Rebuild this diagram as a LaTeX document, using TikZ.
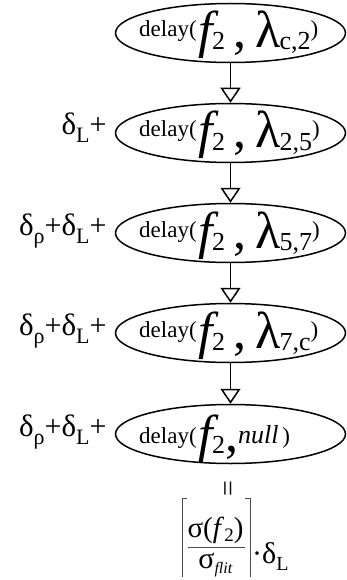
\documentclass[tikz,border=0pt]{standalone}
\usepackage{fontspec}
\setmainfont{Liberation Serif}
\usetikzlibrary{arrows.meta,shapes.geometric}
\newcommand{\fs}[2]{{\fontsize{#1}{#1}\selectfont #2}}
\newcommand{\bigf}{\fs{52pt}{\textit{f}}\kern-7pt\raisebox{-2pt}{\fs{26pt}{2}}}
\newcommand{\lamrow}[1]{\raisebox{11pt}{\fs{23pt}{delay(}}\kern2pt\bigf\fs{52pt}{\,,\,λ}\kern-1pt\raisebox{-2pt}{\fs{26pt}{#1}}\raisebox{11pt}{\fs{23pt}{)}}}
\newcommand{\dL}{\fs{31pt}{δ}\raisebox{-8pt}{\fs{22pt}{L}}\fs{30pt}{+}}
\newcommand{\drho}{\fs{31pt}{δ}\raisebox{-8pt}{\fs{22pt}{ρ}}\fs{30pt}{+}}
\begin{document}
\begin{tikzpicture}[x=1pt,y=1pt,
  ell/.style={draw,ellipse,line width=1.5pt,minimum width=230pt,minimum height=59pt,inner sep=0pt},
  arr/.style={line width=1.5pt,-{Triangle[open,length=15pt,width=20pt,line width=1.5pt]}},
  txt/.style={anchor=base west,inner sep=0pt},
  lbl/.style={anchor=base east,inner sep=0pt}]
\useasboundingbox (0,0) rectangle (347,-580);
\node[ell] (e1) at (230.5,-33) {};
\node[ell] (e2) at (230.5,-133) {};
\node[ell] (e3) at (230.5,-233) {};
\node[ell] (e4) at (230.5,-333) {};
\node[ell] (e5) at (230.5,-434) {};
\node[txt] (t1) at ([xshift=-91.5pt,yshift=-15pt]e1.center) {\lamrow{c,2}};
\node[txt] (t2) at ([xshift=-91.5pt,yshift=-15pt]e2.center) {\lamrow{2,5}};
\node[txt] (t3) at ([xshift=-91.5pt,yshift=-15pt]e3.center) {\lamrow{5,7}};
\node[txt] (t4) at ([xshift=-91.5pt,yshift=-15pt]e4.center) {\lamrow{7,c}};
\node[txt] (t5) at ([xshift=-91.5pt,yshift=-17pt]e5.center) {\raisebox{8pt}{\fs{23pt}{delay(}}\kern2pt\bigf\fs{52pt}{,}\raisebox{8pt}{\fs{26pt}{\textit{null}}\fs{23pt}{\,)}}};
\node[lbl] (l2) at ([xshift=-8pt,yshift=-2pt]e2.west) {\dL};
\node[lbl] (l3) at ([xshift=-8pt,yshift=-2pt]e3.west) {\drho\dL};
\node[lbl] (l4) at ([xshift=-8pt,yshift=-2pt]e4.west) {\drho\dL};
\node[lbl] (l5) at ([xshift=-8pt,yshift=-2pt]e5.west) {\drho\dL};
\draw[arr] (e1) -- (e2);
\draw[arr] (e2) -- (e3);
\draw[arr] (e3) -- (e4);
\draw[arr] (e4) -- (e5);
\node[rotate=90,inner sep=0pt] (eq) at (231,-489) {\fs{28pt}{=}};
\node[anchor=base,inner sep=0pt] (num) at (215.5,-537) {\fs{29pt}{σ(\textit{f}}\raisebox{-4pt}{\fs{19pt}{2}}\fs{29pt}{)}};
\node[anchor=base,inner sep=0pt] (den) at (215.5,-568) {\fs{30pt}{σ}\raisebox{-5pt}{\fs{16pt}{\textit{flit}}}};
\coordinate (bl) at (188,-547);
\coordinate (br) at (245,-547);
\draw[line width=0.9pt,black!70] (bl) -- (br);
\coordinate (lb1) at (182,-577);
\coordinate (lb2) at (182,-498);
\coordinate (lb3) at (187,-498);
\coordinate (rb1) at (245,-498);
\coordinate (rb2) at (250,-498);
\coordinate (rb3) at (250,-577);
\draw[line width=0.9pt,black!70] (lb1) -- (lb2) -- (lb3);
\draw[line width=0.9pt,black!70] (rb1) -- (rb2) -- (rb3);
\node[anchor=base west,inner sep=0pt] (dl) at (252,-563) {\fs{30pt}{·δ}\raisebox{-7pt}{\fs{20pt}{L}}};
\end{tikzpicture}
\end{document}
